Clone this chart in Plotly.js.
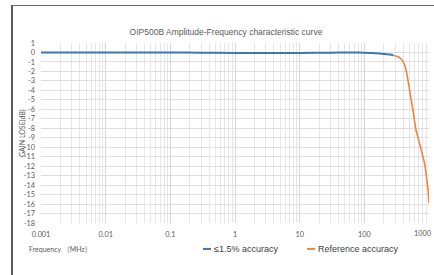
<!DOCTYPE html>
<html>
<head>
<meta charset="utf-8">
<script src="https://cdn.plot.ly/plotly-3.0.1.min.js"></script>
<style>
  html, body { margin: 0; padding: 0; background: #fff; overflow: hidden; width: 434px; height: 275px; }
  #chart { position: absolute; left: 0; top: 0; width: 434px; height: 275px; }
  #frame { position: absolute; left: 11px; top: 5px; width: 430px; height: 280px;
           border-left: 2px solid #5a5a5a; border-top: 1.5px solid #6a6a6a; pointer-events: none; }
</style>
</head>
<body>
<div id="chart"></div>
<div id="frame"></div>
<script>
// ---- data ----
const blueFreq = [0.001, 0.003, 0.01, 0.03, 0.1, 0.3, 1, 3, 10, 30, 60, 100, 150, 200, 250, 281];
const blueGain = [0, 0, 0, 0, 0, -0.03, -0.05, -0.06, -0.05, -0.02, 0, -0.03, -0.08, -0.15, -0.22, -0.3];

const orangeFreq = [281, 356, 400, 436, 478, 526, 571, 622, 683, 771, 866, 920, 975, 1000];
const orangeGain = [-0.3, -0.56, -1.0, -1.7, -3.1, -4.9, -6.3, -8.0, -9.1, -10.5, -11.9, -13.3, -14.7, -15.9];

const xTickVals = [0.001, 0.01, 0.1, 1, 10, 100, 1000];
const xTickText = ["0.001", "0.01", "0.1", "1", "10", "100", "1000"];
const yTickVals = [1, 0, -1, -2, -3, -4, -5, -6, -7, -8, -9, -10, -11, -12, -13, -14, -15, -16, -17, -18];
const yTickText = yTickVals.map(String);

const seriesNames = ["\u22641.5% accuracy", "Reference accuracy"];
const seriesColors = ["#3a78b4", "#ec8640"];

const traces = [
  { x: blueFreq, y: blueGain, type: "scatter", mode: "lines", name: seriesNames[0],
    line: { color: seriesColors[0], width: 2, shape: "spline", smoothing: 0.6 }, showlegend: false },
  { x: orangeFreq, y: orangeGain, type: "scatter", mode: "lines", name: seriesNames[1],
    line: { color: seriesColors[1], width: 1.6, shape: "spline", smoothing: 0.6 }, showlegend: false }
];

const W = 434, H = 275;
const plotL = 41, plotR = 429, plotT = 42.5, plotB = 223;
const pw = plotR - plotL, ph = plotB - plotT;
const px = v => (v - plotL) / pw;          // pixel -> paper x
const py = v => (plotB - v) / ph;          // pixel -> paper y

const tickFont = { family: "Lato, 'Open Sans', sans-serif", size: 7.3, color: "#595959" };

// the last tick label would run past the right edge: show it right-aligned at the edge instead
const lastIdx = xTickText.length - 1;
const axisTickText = xTickText.map((t, i) => (i === lastIdx ? "" : t));

const layout = {
  width: W, height: H,
  margin: { l: plotL, r: W - plotR, t: plotT, b: H - plotB, pad: 0 },
  paper_bgcolor: "#ffffff", plot_bgcolor: "#ffffff",
  showlegend: false,
  title: { text: "OIP500B Amplitude-Frequency characteristic curve",
           font: { family: "'Liberation Sans', Arial, sans-serif", size: 8.5, color: "#595959" },
           xref: "container", x: 226 / W, xanchor: "center",
           yref: "container", y: 1 - 32 / H, yanchor: "middle" },
  xaxis: {
    type: "log", range: [-3, 3],
    tickvals: xTickVals, ticktext: axisTickText,
    tickfont: tickFont, ticks: "", ticklabelstandoff: 6,
    showgrid: true, gridcolor: "#d6d6d6", gridwidth: 1,
    minor: { dtick: "D1", showgrid: true, gridcolor: "#e6e6e6", gridwidth: 1, ticks: "" },
    showline: false, zeroline: false
  },
  yaxis: {
    range: [-18, 1],
    tickvals: yTickVals, ticktext: yTickText,
    tickfont: tickFont, ticks: "", ticklabelstandoff: 5,
    showgrid: true, gridcolor: "#dedede", gridwidth: 1,
    showline: false, zeroline: false
  },
  annotations: [
    { text: xTickText[lastIdx], xref: "paper", yref: "paper", x: px(434), y: py(234),
      showarrow: false, xanchor: "right", yanchor: "middle", xshift: 0,
      font: tickFont },
    { text: "GAIN LOSE(dB)", xref: "paper", yref: "paper", x: px(22), y: 0.5,
      textangle: -90, showarrow: false, xanchor: "center", yanchor: "middle",
      font: { family: "Lato, sans-serif", size: 7, color: "#595959" } },
    { text: "Frequency \uFF08MHz\uFF09", xref: "paper", yref: "paper", x: px(27), y: py(249),
      showarrow: false, xanchor: "left", yanchor: "middle",
      font: { family: "Lato, 'Noto Sans CJK SC', sans-serif", size: 7, color: "#595959" } },
    { text: seriesNames[0], xref: "paper", yref: "paper", x: px(212), y: py(249),
      showarrow: false, xanchor: "left", yanchor: "middle",
      font: { family: "'Liberation Sans', Arial, sans-serif", size: 9, color: "#404040" } },
    { text: seriesNames[1], xref: "paper", yref: "paper", x: px(316), y: py(249),
      showarrow: false, xanchor: "left", yanchor: "middle",
      font: { family: "'Liberation Sans', Arial, sans-serif", size: 9, color: "#404040" } }
  ],
  shapes: [
    { type: "line", xref: "paper", yref: "paper", x0: px(203), x1: px(211), y0: py(249), y1: py(249),
      line: { color: seriesColors[0], width: 2 } },
    { type: "line", xref: "paper", yref: "paper", x0: px(307), x1: px(315), y0: py(249), y1: py(249),
      line: { color: seriesColors[1], width: 2 } }
  ]
};

Plotly.newPlot("chart", traces, layout, { staticPlot: true, displayModeBar: false });
</script>
</body>
</html>
